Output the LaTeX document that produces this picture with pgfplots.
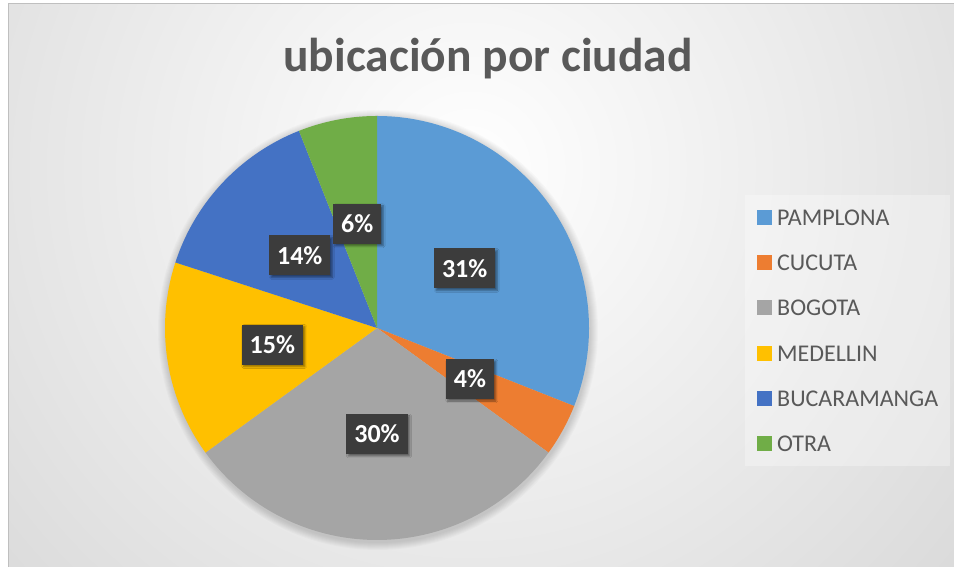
\documentclass[border=0pt]{standalone}
\usepackage{fontspec}
\setmainfont{Carlito}
\usepackage{etoolbox}
\usepackage{pgfplots}
\pgfplotsset{compat=1.18}
\usetikzlibrary{shadows.blur}

\definecolor{cPam}{HTML}{5B9BD5}
\definecolor{cCuc}{HTML}{ED7D31}
\definecolor{cBog}{HTML}{A5A5A5}
\definecolor{cMed}{HTML}{FFC000}
\definecolor{cBuc}{HTML}{4472C4}
\definecolor{cOtr}{HTML}{70AD47}
\definecolor{txtgray}{HTML}{595959}
\definecolor{lblbox}{HTML}{3C3C3C}
\definecolor{bgedge}{HTML}{C4C4C4}
\definecolor{frame}{HTML}{BFBFBF}

\tikzset{lbl/.style={fill=lblbox, text=white, inner xsep=8bp, inner ysep=0bp,
    minimum height=40bp,
    font=\fontsize{26bp}{28bp}\selectfont\bfseries,
    blur shadow={shadow xshift=2bp, shadow yshift=-2bp, shadow blur steps=6,
      shadow opacity=45}}}

% pie centre and radius, in bp (1 axis unit = 1bp)
\def\cx{377}\def\cy{241}\def\rr{212}
\def\labelnodes{}

% #1 cumulative start (%), #2 value (%), #3 colour, #4 name
\newcommand\slice[4]{%
  \pgfmathsetmacro\angA{90-3.6*#1}%
  \pgfmathsetmacro\angB{90-3.6*(#1+#2)}%
  \edef\doplot{\noexpand\addplot[draw=none, fill=#3, domain=\angB:\angA,
      samples=90, variable=\noexpand\t]
    ({\cx+\rr*cos(\noexpand\t)},{\cy+\rr*sin(\noexpand\t)})
    -- (axis cs:\cx,\cy) -- cycle;}%
  \doplot
  \addlegendentry{#4}%
  \pgfmathsetmacro\lx{\cx+106*cos((\angA+\angB)/2)}%
  \pgfmathsetmacro\ly{\cy+106*sin((\angA+\angB)/2)}%
  \xappto\labelnodes{\noexpand\node[lbl] at (axis cs:\lx,\ly) {#2\noexpand\%};}%
}

\begin{document}
\begin{tikzpicture}[x=1bp,y=1bp]
\useasboundingbox (0,0) rectangle (954,569);
\fill[white] (0,0) rectangle (954,569);
\begin{scope}
  \clip (8,2) rectangle (954,565);
  \shade[inner color=white, outer color=bgedge] (470,400) circle (1020);
\end{scope}
\draw[frame, line width=1bp] (8,2) -- (8,565) -- (954,565);
% soft shadow round the pie
\foreach \k in {1,...,8}
  \fill[black, opacity=0.018] (\cx+1,\cy-2) circle (\rr+\k);
\node[anchor=base, text=txtgray, font=\fontsize{47.5bp}{50bp}\selectfont\bfseries]
  at (488,497) {ubicación por ciudad};

\begin{axis}[
    at={(0,0)}, anchor=south west,
    scale only axis, width=954bp, height=569bp,
    xmin=0, xmax=954, ymin=0, ymax=569,
    axis lines=none,
    clip=false,
    legend image code/.code={\fill[#1, draw=none, fill opacity=1]
      (0bp,-7.5bp) rectangle (15bp,7.5bp);},
    legend cell align=left,
    legend style={at={(0.7809,0.6573)}, anchor=north west,
      draw=none, fill=white, fill opacity=0.3, text opacity=1,
      inner xsep=12bp, inner ysep=14bp,
      row sep=29.3bp, /tikz/column sep=5bp,
      text=txtgray, font=\fontsize{24bp}{26bp}\selectfont,
      nodes={inner sep=0bp, text height=16bp, text depth=0bp}},
]
\slice{0}{31}{cPam}{PAMPLONA}
\slice{31}{4}{cCuc}{CUCUTA}
\slice{35}{30}{cBog}{BOGOTA}
\slice{65}{15}{cMed}{MEDELLIN}
\slice{80}{14}{cBuc}{BUCARAMANGA}
\slice{94}{6}{cOtr}{OTRA}
\labelnodes
\end{axis}
\end{tikzpicture}
\end{document}
